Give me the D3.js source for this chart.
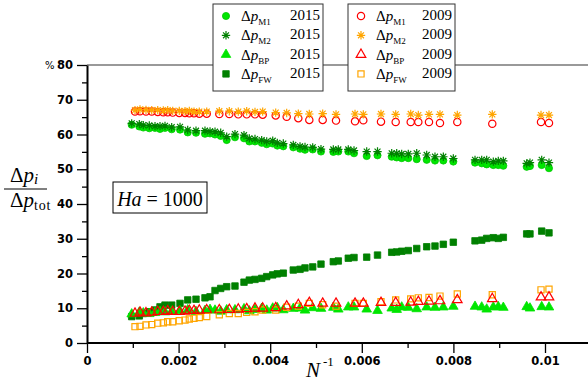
<!DOCTYPE html>
<html>
<head>
<meta charset="utf-8">
<script src="https://cdn.jsdelivr.net/npm/d3@7"></script>
<style>
  body { margin: 0; background: #fff; }
  svg { display: block; }
  .tick text { font-family: "DejaVu Sans", sans-serif; font-weight: bold; font-size: 11.5px; fill: #000; }
</style>
</head>
<body>
<div id="chart"></div>
<script>
// x values (N^-1) of the 2015 runs
const x2015 = [0.000976, 0.001142, 0.001229, 0.001360, 0.001485, 0.001594, 0.001703, 0.001849, 0.002031, 0.002199,
  0.002380, 0.002576, 0.002686, 0.002795, 0.002919, 0.003050, 0.003231, 0.003428, 0.003544, 0.003668,
  0.003814, 0.003924, 0.004055, 0.004155, 0.004286, 0.004504, 0.004651, 0.004760, 0.004928, 0.005109,
  0.005378, 0.005487, 0.005705, 0.005830, 0.006107, 0.006343, 0.006653, 0.006762, 0.006871, 0.007015,
  0.007199, 0.007417, 0.007598, 0.007780, 0.007998, 0.008472, 0.008618, 0.008727, 0.008871, 0.008980,
  0.009090, 0.009600, 0.009672, 0.009928, 0.010087];
const m1_2015 = [62.8, 62.3, 62.0, 61.8, 61.9, 61.6, 61.9, 61.5, 61.4, 60.6, 60.5, 60.2, 60.3, 60.0, 59.6, 58.4, 59.2, 58.9, 58.0, 58.0,
  57.6, 57.2, 57.4, 56.8, 56.6, 56.3, 55.9, 55.6, 55.7, 55.1, 55.0,
  55.1, 55.1, 54.6, 53.8, 54.0, 53.6, 53.4, 53.2, 53.2, 52.9, 52.7, 52.5, 52.5, 52.2, 51.9, 51.7, 51.4, 51.2, 51.2, 51.0, 50.7, 50.9, 51.2, 50.3];
const m2_2015 = [63.2, 63.0, 62.7, 62.6, 62.4, 62.4, 62.5, 62.1, 62.2, 61.3, 61.1, 61.1, 60.9, 60.8, 60.5, 59.4, 60.1, 59.8, 58.9, 58.7,
  58.4, 58.0, 58.2, 57.6, 57.4, 57.0, 56.6, 56.4, 56.3, 55.8, 55.7,
  55.7, 55.7, 55.4, 55.1, 55.1, 54.6, 54.6, 54.4, 54.4, 54.6, 54.1, 53.6, 53.6, 53.1, 52.7, 52.7, 52.7, 52.2, 52.4, 52.4, 51.7, 51.9, 52.7, 51.9];
const bp_2015 = [8.3, 8.8, 8.6, 8.4, 8.7, 9.0, 8.9, 9.1, 9.2, 9.5, 9.0, 9.3, 9.6, 9.4, 9.1, 9.5, 9.5, 9.8, 9.2, 9.6,
  9.9, 9.4, 10.0, 10.1, 9.5, 9.9, 10.0, 9.4, 10.1, 9.9, 10.2,
  9.7, 10.3, 10.3, 9.7, 9.3, 10.0, 9.6, 10.3, 10.2, 9.8, 10.3, 10.2, 10.3, 10.5, 10.5, 10.3, 9.7, 10.3, 10.4, 10.2, 10.4, 10.0, 10.4, 10.3];
const fw_2015 = [7.6, 7.8, 8.5, 9.0, 9.5, 10.4, 10.9, 10.9, 11.4, 12.4, 12.6, 13.0, 13.3, 15.1, 15.7, 16.2, 16.4, 17.5, 18.1, 18.3,
  18.6, 19.1, 19.6, 19.9, 20.1, 21.0, 21.2, 21.6, 21.9, 22.7, 23.4,
  23.6, 24.4, 24.6, 24.7, 25.3, 26.1, 26.2, 26.4, 26.6, 27.2, 27.7, 27.9, 28.4, 29.0, 29.4, 29.6, 30.1, 30.3, 30.1, 30.4, 31.4, 31.4, 32.2, 31.7];

// x values of the 2009 runs
const x2009 = [0.001048, 0.001157, 0.001288, 0.001413, 0.001544, 0.001666, 0.001762, 0.001871, 0.002015, 0.002140,
  0.002234, 0.002336, 0.002452, 0.002614, 0.002889, 0.003107, 0.003303, 0.003487, 0.003668, 0.003836,
  0.004120, 0.004360, 0.004614, 0.004854, 0.005146, 0.005437, 0.005852, 0.006033, 0.006419, 0.006740,
  0.007068, 0.007234, 0.007467, 0.007707, 0.008085, 0.008849, 0.009913, 0.010087];
const m1_2009 = [66.6, 66.7, 66.6, 66.6, 66.5, 66.4, 66.4, 66.3, 66.2, 66.2, 66.1, 66.1, 66.0, 66.0, 65.9, 65.9, 65.8, 65.8, 65.8, 65.7,
  65.5, 65.1, 64.7, 64.2, 64.2, 64.0, 63.8, 64.1, 63.7, 63.6, 63.6, 63.6, 63.6, 63.3, 63.6, 63.1, 63.6, 63.3];
const m2_2009 = [67.0, 67.2, 67.1, 67.0, 67.0, 66.9, 67.0, 66.8, 66.8, 66.7, 66.8, 66.6, 66.6, 66.6, 66.7, 66.7, 66.6, 66.7, 66.5, 66.6,
  66.3, 66.2, 66.0, 65.9, 66.0, 65.8, 65.9, 65.8, 65.9, 65.8, 65.9, 65.6, 65.8, 65.8, 65.6, 65.8, 65.6, 65.6];
const bp_2009 = [8.5, 8.8, 8.6, 8.8, 9.0, 9.0, 9.2, 9.0, 9.0, 9.1, 9.3, 9.3, 9.4, 9.5, 9.5, 9.6, 9.7, 9.8, 10.0, 10.0,
  10.1, 10.6, 11.0, 11.6, 11.4, 11.4, 11.4, 11.4, 11.6, 11.6, 11.7, 11.9, 12.0, 12.1, 12.4, 12.7, 13.2, 13.2];
const fw_2009 = [4.7, 4.8, 5.2, 5.3, 5.7, 5.8, 6.1, 6.1, 6.4, 6.6, 6.9, 7.1, 7.3, 7.6, 8.1, 8.5, 8.5, 8.8, 9.0, 9.5,
  9.5, 10.3, 10.6, 11.4, 11.0, 10.6, 11.4, 11.4, 11.9, 12.4, 12.7, 13.0, 13.1, 13.5, 14.1, 13.9, 15.3, 15.5];

const xTicks = [0, 0.002, 0.004, 0.006, 0.008, 0.01];
const xMinor = [0.001, 0.003, 0.005, 0.007, 0.009, 0.011];
const yTicks = [0, 10, 20, 30, 40, 50, 60, 70, 80];
const yMinor = [5, 15, 25, 35, 45, 55, 65, 75];

const lime = "#00e600", dkgreen = "#008000", red = "#ff0000", orange = "#ffa500";
const SERIF = "Liberation Serif, Times New Roman, serif";

// 8-arm star used for the M2 series
const star = {
  draw(ctx, size) {
    const r = Math.sqrt(size) / 2, d = r * 0.7071;
    ctx.moveTo(-r, 0); ctx.lineTo(r, 0);
    ctx.moveTo(0, -r); ctx.lineTo(0, r);
    ctx.moveTo(-d, -d); ctx.lineTo(d, d);
    ctx.moveTo(-d, d); ctx.lineTo(d, -d);
  }
};

const series = [
  { name: "M1", year: "2015", xs: x2015, ys: m1_2015, type: d3.symbolCircle, size: 40, fill: lime, stroke: "#00c800" },
  { name: "M2", year: "2015", xs: x2015, ys: m2_2015, type: star, size: 70, fill: "none", stroke: dkgreen },
  { name: "BP", year: "2015", xs: x2015, ys: bp_2015, type: d3.symbolTriangle, size: 40, fill: lime, stroke: lime },
  { name: "FW", year: "2015", xs: x2015, ys: fw_2015, type: d3.symbolSquare, size: 42, fill: dkgreen, stroke: dkgreen },
  { name: "M1", year: "2009", xs: x2009, ys: m1_2009, type: d3.symbolCircle, size: 42, fill: "none", stroke: red },
  { name: "M2", year: "2009", xs: x2009, ys: m2_2009, type: star, size: 70, fill: "none", stroke: orange },
  { name: "BP", year: "2009", xs: x2009, ys: bp_2009, type: d3.symbolTriangle, size: 40, fill: "none", stroke: red },
  { name: "FW", year: "2009", xs: x2009, ys: fw_2009, type: d3.symbolSquare, size: 38, fill: "none", stroke: orange }
];

const width = 588, height = 382;
const svg = d3.select("#chart").append("svg")
  .attr("width", width)
  .attr("height", height);

const x = d3.scaleLinear().domain([0, 0.011]).range([87, 87 + 0.011 * 45800]);
const y = d3.scaleLinear().domain([0, 80]).range([343, 65]);

// top frame line
svg.append("line")
  .attr("x1", x(0)).attr("x2", width)
  .attr("y1", y(80)).attr("y2", y(80))
  .attr("stroke", "#777").attr("stroke-width", 1.5);

// points (2015 first, 2009 on top)
const order = [3, 2, 0, 1, 7, 6, 4, 5];
order.forEach(i => {
  const s = series[i];
  const sym = d3.symbol(s.type, s.size);
  svg.append("g").selectAll("path")
    .data(s.xs.map((v, k) => [v, s.ys[k]]))
    .enter().append("path")
    .attr("transform", d => "translate(" + x(d[0]) + "," + y(d[1]) + ")")
    .attr("d", sym)
    .attr("fill", s.fill)
    .attr("stroke", s.stroke)
    .attr("stroke-width", s.fill === "none" ? 1.2 : 0.8);
});

// axes
const xAxis = svg.append("g").attr("transform", "translate(0," + y(0) + ")");
xAxis.call(d3.axisBottom(x).tickValues(xTicks).tickSize(10).tickSizeOuter(0).tickPadding(4)
  .tickFormat(d => d === 0 ? "0" : d3.format("~g")(d)));
xAxis.append("g").call(d3.axisBottom(x).tickValues(xMinor).tickSize(5).tickFormat(""))
  .select(".domain").remove();
xAxis.selectAll(".domain").attr("stroke-width", 2).attr("d", "M" + x(0) + ",0H" + width);
xAxis.selectAll(".tick line").attr("stroke-width", 1.3);

const yAxis = svg.append("g").attr("transform", "translate(" + x(0) + ",0)");
yAxis.call(d3.axisLeft(y).tickValues(yTicks).tickSize(10).tickSizeOuter(0).tickPadding(4));
yAxis.append("g").call(d3.axisLeft(y).tickValues(yMinor).tickSize(5).tickFormat(""))
  .select(".domain").remove();
yAxis.selectAll(".domain").attr("stroke-width", 2);
yAxis.selectAll(".tick line").attr("stroke-width", 1.3);

svg.append("text").attr("x", 45).attr("y", 69)
  .attr("font-family", "DejaVu Sans, sans-serif").attr("font-size", 10).text("%");

// y label: fraction
const t1 = svg.append("text").attr("x", 10).attr("y", 182)
  .attr("font-family", SERIF).attr("font-size", 21);
t1.append("tspan").text("Δ");
t1.append("tspan").attr("font-style", "italic").text("p");
t1.append("tspan").attr("font-style", "italic").attr("font-size", 15).attr("dy", 2).text("i");
svg.append("line").attr("x1", 4).attr("x2", 47).attr("y1", 189).attr("y2", 189)
  .attr("stroke", "#000").attr("stroke-width", 1);
const t2 = svg.append("text").attr("x", 10).attr("y", 207)
  .attr("font-family", SERIF).attr("font-size", 21);
t2.append("tspan").text("Δ");
t2.append("tspan").attr("font-style", "italic").text("p");
t2.append("tspan").attr("font-size", 14).attr("dy", 3).attr("letter-spacing", 0.8).text("tot");

// x label
const xl = svg.append("text").attr("x", 306).attr("y", 377)
  .attr("font-family", SERIF).attr("font-size", 21);
xl.append("tspan").attr("font-style", "italic").text("N");
xl.append("tspan").attr("font-size", 13).attr("dy", -11).attr("dx", 3).text("-1");

// Ha box
svg.append("rect").attr("x", 113).attr("y", 182).attr("width", 94).attr("height", 31)
  .attr("fill", "#fff").attr("stroke", "#000").attr("stroke-width", 1);
const ha = svg.append("text").attr("x", 160).attr("y", 205.5)
  .attr("font-family", SERIF).attr("text-anchor", "middle").attr("font-size", 20);
ha.append("tspan").attr("font-style", "italic").text("Ha");
ha.append("tspan").text(" = 1000");

// legends
const legends = [
  { x0: 213, x1: 323, items: series.slice(0, 4) },
  { x0: 348, x1: 455, items: series.slice(4, 8) }
];
legends.forEach(L => {
  const g = svg.append("g");
  g.append("rect").attr("x", L.x0).attr("y", 4).attr("width", L.x1 - L.x0).attr("height", 87)
    .attr("fill", "#fff").attr("stroke", "#333").attr("stroke-width", 1);
  L.items.forEach((s, k) => {
    const cy = 16 + k * 19.3;
    g.append("path")
      .attr("transform", "translate(" + (L.x0 + 13) + "," + cy + ")")
      .attr("d", d3.symbol(s.type, s.size)())
      .attr("fill", s.fill).attr("stroke", s.stroke)
      .attr("stroke-width", s.fill === "none" ? 1.2 : 0.8);
    const t = g.append("text").attr("x", L.x0 + 28).attr("y", cy + 5)
      .attr("font-family", SERIF).attr("font-size", 15);
    t.append("tspan").text("Δ");
    t.append("tspan").attr("font-style", "italic").text("p");
    t.append("tspan").attr("font-size", 9).attr("dy", 4).text(s.name);
    g.append("text").attr("x", L.x1 - 3).attr("y", cy + 4)
      .attr("font-family", SERIF).attr("text-anchor", "end").attr("font-size", 15).text(s.year);
  });
});
</script>
</body>
</html>
